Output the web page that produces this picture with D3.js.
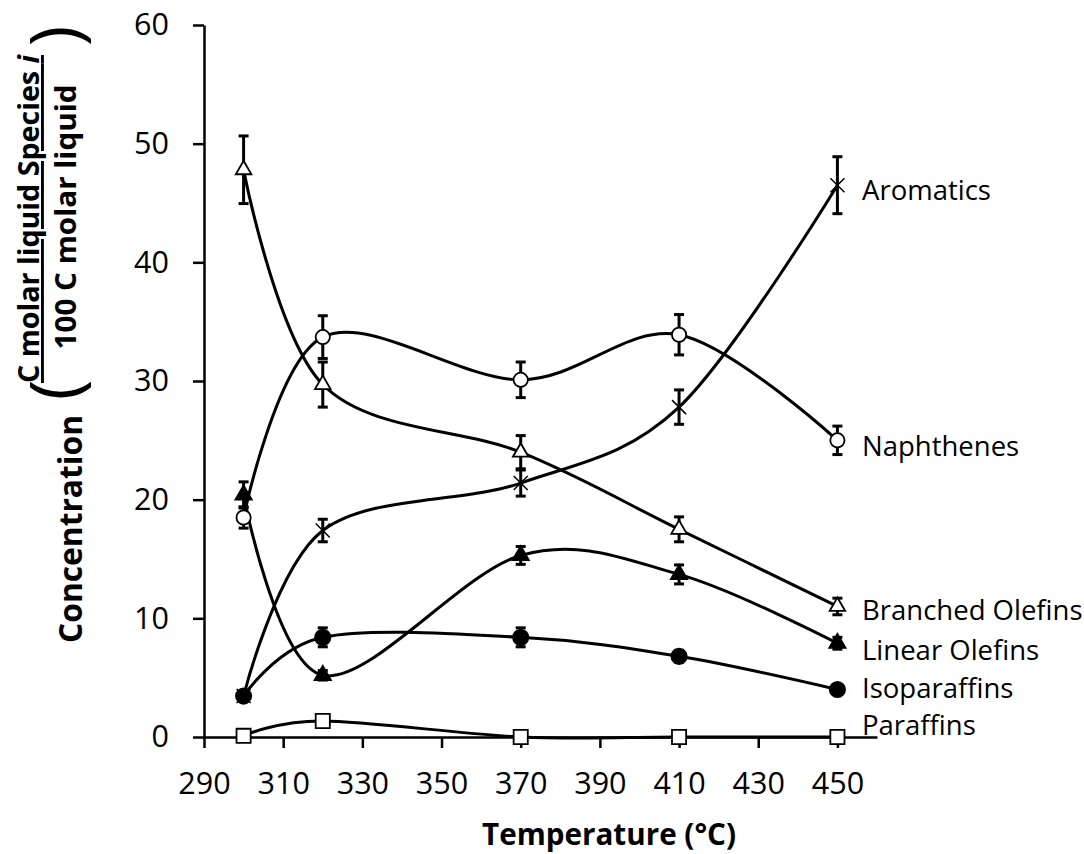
<!doctype html>
<html>
  <head>
    <meta charset="utf-8">
    <script src="https://cdn.jsdelivr.net/npm/d3@7/dist/d3.min.js"></script>
    <style>
      body { margin: 0; background: #fff; }
      text { font-family: "Open Sans", sans-serif; fill: #000; }
    </style>
  </head>
  <body>
    <svg id="chart" width="1084" height="854"></svg>

    <script>
      // values
      var temps = [300, 320, 370, 410, 450];
      var xTicks = [290, 310, 330, 350, 370, 390, 410, 430, 450];
      var yTicks = [0, 10, 20, 30, 40, 50, 60];

      var seriesNames = ["Aromatics", "Naphthenes", "Branched Olefins", "Linear Olefins", "Isoparaffins", "Paraffins"];

      var aromatics       = [3.45, 17.4, 21.4, 27.8, 46.5];
      var aromaticsErr    = [0.3, 0.95, 1.1, 1.45, 2.4];
      var naphthenes      = [18.5, 33.7, 30.1, 33.9, 25.0];
      var naphthenesErr   = [0.9, 1.8, 1.5, 1.7, 1.2];
      var branched        = [47.8, 29.7, 24.0, 17.5, 11.0];
      var branchedErr     = [2.85, 1.9, 1.4, 1.05, 0.7];
      var linear          = [20.4, 5.2, 15.3, 13.7, 7.9];
      var linearErr       = [1.1, 0.4, 0.75, 0.8, 0.5];
      var isoparaffins    = [3.45, 8.4, 8.4, 6.8, 4.0];
      var isoparaffinsErr = [0.3, 0.8, 0.8, 0.5, 0.2];
      var paraffins       = [0.1, 1.35, 0, 0, 0];
      var paraffinsErr    = [0.1, 0.2, 0, 0, 0];

      var values = [aromatics, naphthenes, branched, linear, isoparaffins, paraffins];
      var errors = [aromaticsErr, naphthenesErr, branchedErr, linearErr, isoparaffinsErr, paraffinsErr];

      var svg = d3.select("#chart");

      var x = d3.scaleLinear().domain([290, 460]).range([204, 877]);
      var y = d3.scaleLinear().domain([0, 60]).range([737, 25]);

      // marker look per series
      var markers = [
        { type: d3.symbolTimes,    size: 130, fill: "none" },
        { type: d3.symbolCircle,   size: 160, fill: "#fff" },
        { type: d3.symbolTriangle, size: 105, fill: "#fff" },
        { type: d3.symbolTriangle, size: 115, fill: "#000" },
        { type: d3.symbolCircle,   size: 185, fill: "#000" },
        { type: d3.symbolSquare,   size: 200, fill: "#fff" }
      ];
      // small vertical nudges so the end labels don't collide
      var labelNudge = [15, 16, 14, 17, 8, -2];

      // axes
      var yAxis = svg.append("g")
        .attr("transform", "translate(204,0)")
        .call(d3.axisLeft(y).tickValues(yTicks).tickSize(11).tickSizeOuter(0).tickPadding(24));
      var xAxis = svg.append("g")
        .attr("transform", "translate(0,737)")
        .call(d3.axisBottom(x).tickValues(xTicks).tickSize(11).tickSizeOuter(0).tickPadding(24));

      [yAxis, xAxis].forEach(function(g) {
        g.select(".domain").attr("stroke", "#000").attr("stroke-width", 2.5);
        g.selectAll(".tick line").attr("stroke", "#000").attr("stroke-width", 2.5);
        g.selectAll(".tick text")
          .attr("font-family", "Open Sans")
          .attr("font-size", 30.5)
          .attr("fill", "#000");
      });

      var line = d3.line()
        .x(function(d, i) { return x(temps[i]); })
        .y(function(d) { return y(d); })
        .curve(d3.curveCardinal.tension(0));

      values.forEach(function(vals, s) {
        svg.append("path")
          .attr("d", line(vals))
          .attr("fill", "none")
          .attr("stroke", "#000")
          .attr("stroke-width", 3);
      });

      // error bars
      values.forEach(function(vals, s) {
        var g = svg.append("g").attr("stroke", "#000").attr("stroke-width", 3);
        vals.forEach(function(v, i) {
          var e = errors[s][i];
          if (!e) return;
          var cx = x(temps[i]), y0 = y(v - e), y1 = y(v + e);
          g.append("line").attr("x1", cx).attr("x2", cx).attr("y1", y0).attr("y2", y1);
          g.append("line").attr("x1", cx - 5).attr("x2", cx + 5).attr("y1", y0).attr("y2", y0);
          g.append("line").attr("x1", cx - 5).attr("x2", cx + 5).attr("y1", y1).attr("y2", y1);
        });
      });

      // markers
      values.forEach(function(vals, s) {
        var m = markers[s];
        svg.append("g").selectAll("path")
          .data(vals)
          .enter()
          .append("path")
            .attr("transform", function(d, i) { return "translate(" + x(temps[i]) + "," + y(d) + ")"; })
            .attr("d", d3.symbol().type(m.type).size(m.size))
            .attr("fill", m.fill)
            .attr("stroke", "#000")
            .attr("stroke-width", s == 0 ? 1.5 : 1.8);
      });

      // series labels at the right end
      seriesNames.forEach(function(name, s) {
        var vals = values[s];
        svg.append("text")
          .attr("x", 862)
          .attr("y", y(vals[vals.length - 1]) + labelNudge[s])
          .attr("font-size", 27.5)
          .text(name);
      });

      // x title
      svg.append("text")
        .attr("x", 609)
        .attr("y", 845)
        .attr("text-anchor", "middle")
        .attr("font-size", 30)
        .attr("font-weight", "bold")
        .attr("textLength", 254)
        .attr("lengthAdjust", "spacingAndGlyphs")
        .text("Temperature (°C)");

      // y title: Concentration ( C molar liquid Species i / 100 C molar liquid )
      var yt = svg.append("g").attr("transform", "rotate(-90)");
      yt.append("text")
        .attr("x", -529).attr("y", 82)
        .attr("text-anchor", "middle")
        .attr("font-size", 32).attr("font-weight", "bold")
        .attr("textLength", 228).attr("lengthAdjust", "spacingAndGlyphs")
        .text("Concentration");
      yt.append("text")
        .attr("x", -390).attr("y", 80)
        .attr("text-anchor", "middle")
        .attr("font-size", 70)
        .text("(");
      yt.append("text")
        .attr("x", -36).attr("y", 80)
        .attr("text-anchor", "middle")
        .attr("font-size", 70)
        .text(")");
      var num = yt.append("text")
        .attr("x", -219).attr("y", 39)
        .attr("text-anchor", "middle")
        .attr("font-size", 29).attr("font-weight", "bold")
        .attr("text-decoration", "underline")
        .attr("textLength", 328).attr("lengthAdjust", "spacingAndGlyphs");
      num.append("tspan").text("C molar liquid Species ");
      num.append("tspan").attr("font-style", "italic").text("i");
      yt.append("text")
        .attr("x", -217).attr("y", 76)
        .attr("text-anchor", "middle")
        .attr("font-size", 29).attr("font-weight", "bold")
        .attr("textLength", 265).attr("lengthAdjust", "spacingAndGlyphs")
        .text("100  C molar liquid");
    </script>
  </body>
</html>
